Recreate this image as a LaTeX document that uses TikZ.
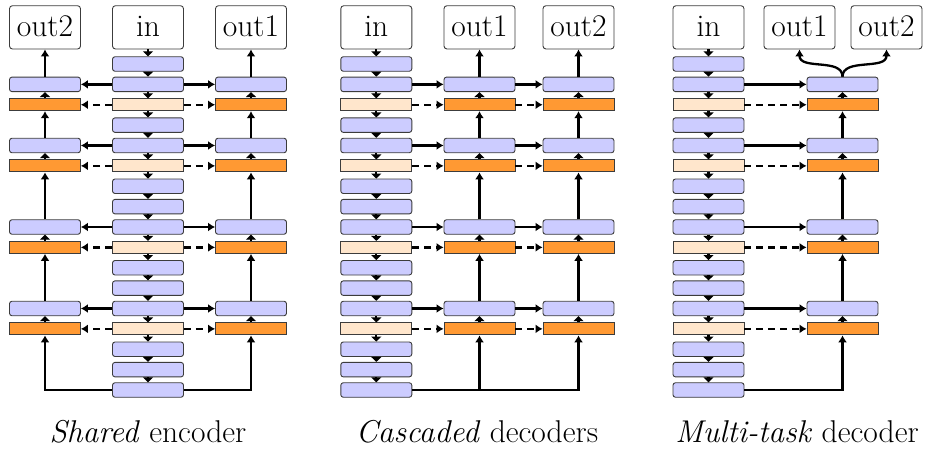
\documentclass[tikz,border=0pt]{standalone}
\usetikzlibrary{arrows.meta}
\definecolor{blueL}{RGB}{204,204,255}
\definecolor{orangeD}{RGB}{255,153,51}
\definecolor{orangeL}{RGB}{255,230,204}
\definecolor{edge}{RGB}{60,60,60}
\tikzset{
  blk/.style={draw=edge, line width=0.9pt, rounded corners=2.5pt, fill=blueL,
    minimum width=71pt, minimum height=14.5pt, inner sep=0pt},
  orn/.style={draw=edge, line width=0.9pt, fill=orangeD,
    minimum width=71pt, minimum height=12pt, inner sep=0pt},
  lorn/.style={orn, fill=orangeL},
  iobox/.style={draw=edge, line width=0.9pt, rounded corners=3pt, fill=white,
    minimum width=71pt, minimum height=43.3pt, inner sep=0pt,
    font=\fontsize{31.5}{36}\selectfont, text height=19pt, text depth=0pt},
  conn/.style={line width=2.3pt, -{Latex[length=7pt,width=9pt]}},
  dconn/.style={conn, dash pattern=on 7pt off 5pt},
  tinyarr/.style={line width=2.3pt, -{Triangle[length=5pt,width=10pt]}},
  captext/.style={font=\fontsize{31.5}{36}\selectfont, inner sep=0pt, anchor=base},
}
% encoder column: #1 prefix, #2 x centre
\newcommand\myenccol[2]{%
  \foreach \i in {1,2,4,5,7,8,9,11,12,13,15,16,17}
    \node[blk] (#1\i) at (#2,{64+20.375*(\i-1)}) {};
  \foreach \i in {3,6,10,14}
    \node[lorn] (#1\i) at (#2,{64+20.375*(\i-1)}) {};
  \foreach \i [evaluate=\i as \j using int(\i+1)] in {1,...,16}
    \draw[tinyarr] (#1\i.south) -- (#1\j.north);
}
% decoder column: #1 prefix, #2 x centre
\newcommand\mydeccol[2]{%
  \foreach \k/\b/\o in {1/2/3,2/5/6,3/9/10,4/13/14}{
    \node[blk] (#1b\k) at (#2,{64+20.375*(\b-1)}) {};
    \node[orn] (#1o\k) at (#2,{64+20.375*(\o-1)}) {};
    \draw[tinyarr] (#1o\k.north) -- (#1b\k.south);
  }
  \foreach \k [evaluate=\k as \m using int(\k+1)] in {1,2,3}
    \draw[conn] (#1b\m.north) -- (#1o\k.south);
}
\begin{document}
\begin{tikzpicture}[x=1pt,y=-1pt]
\useasboundingbox (0,0) rectangle (930,450);

% ---------- Panel 1: shared encoder ----------
\myenccol{a}{148}
\mydeccol{al}{45}
\mydeccol{ar}{251}
\node[iobox] (ain) at (148,27.35) {in};
\node[iobox] (aout2) at (45,27.35) {out2};
\node[iobox] (aout1) at (251,27.35) {out1};
\draw[tinyarr] (ain.south) -- (a1.north);
\draw[conn] (alb1.north) -- (aout2.south);
\draw[conn] (arb1.north) -- (aout1.south);
\foreach \k/\b/\o in {1/2/3,2/5/6,3/9/10,4/13/14}{
  \draw[conn] (a\b.west) -- (alb\k.east);
  \draw[conn] (a\b.east) -- (arb\k.west);
  \draw[dconn] (a\o.west) -- (alo\k.east);
  \draw[dconn] (a\o.east) -- (aro\k.west);
}
\draw[conn] (a17.west) -| (alo4.south);
\draw[conn] (a17.east) -| (aro4.south);
\node[captext] (capa) at (148,442) {\textit{Shared} encoder};

% ---------- Panel 2: cascaded decoders ----------
\myenccol{b}{376.3}
\mydeccol{bp}{479.5}
\mydeccol{bq}{578.5}
\node[iobox] (bin) at (376.3,27.35) {in};
\node[iobox] (bout1) at (479.5,27.35) {out1};
\node[iobox] (bout2) at (578.5,27.35) {out2};
\draw[tinyarr] (bin.south) -- (b1.north);
\draw[conn] (bpb1.north) -- (bout1.south);
\draw[conn] (bqb1.north) -- (bout2.south);
\foreach \k/\b/\o in {1/2/3,2/5/6,3/9/10,4/13/14}{
  \draw[conn] (b\b.east) -- (bpb\k.west);
  \draw[conn] (bpb\k.east) -- (bqb\k.west);
  \draw[dconn] (b\o.east) -- (bpo\k.west);
  \draw[dconn] (bpo\k.east) -- (bqo\k.west);
}
\draw[conn] (b17.east) -| (bqo4.south);
\draw[conn] (bpo4.south |- b17.east) -- (bpo4.south);
\node[captext] (capb) at (477,442) {\textit{Cascaded} decoders};

% ---------- Panel 3: multi-task decoder ----------
\myenccol{c}{708.5}
\mydeccol{cd}{842.5}
\node[iobox] (cin) at (708.5,27.35) {in};
\node[iobox] (cout1) at (799.5,27.35) {out1};
\node[iobox] (cout2) at (886.5,27.35) {out2};
\draw[tinyarr] (cin.south) -- (c1.north);
\foreach \k/\b/\o in {1/2/3,2/5/6,3/9/10,4/13/14}{
  \draw[conn] (c\b.east) -- (cdb\k.west);
  \draw[dconn] (c\o.east) -- (cdo\k.west);
}
\draw[conn] (c17.east) -| (cdo4.south);
\draw[conn] (cdb1.north) .. controls +(0,-19) and +(0,21) .. (cout1.south);
\draw[conn] (cdb1.north) .. controls +(0,-19) and +(0,21) .. (cout2.south);
\node[captext] (capc) at (797,442) {\textit{Multi-task} decoder};
\end{tikzpicture}
\end{document}
